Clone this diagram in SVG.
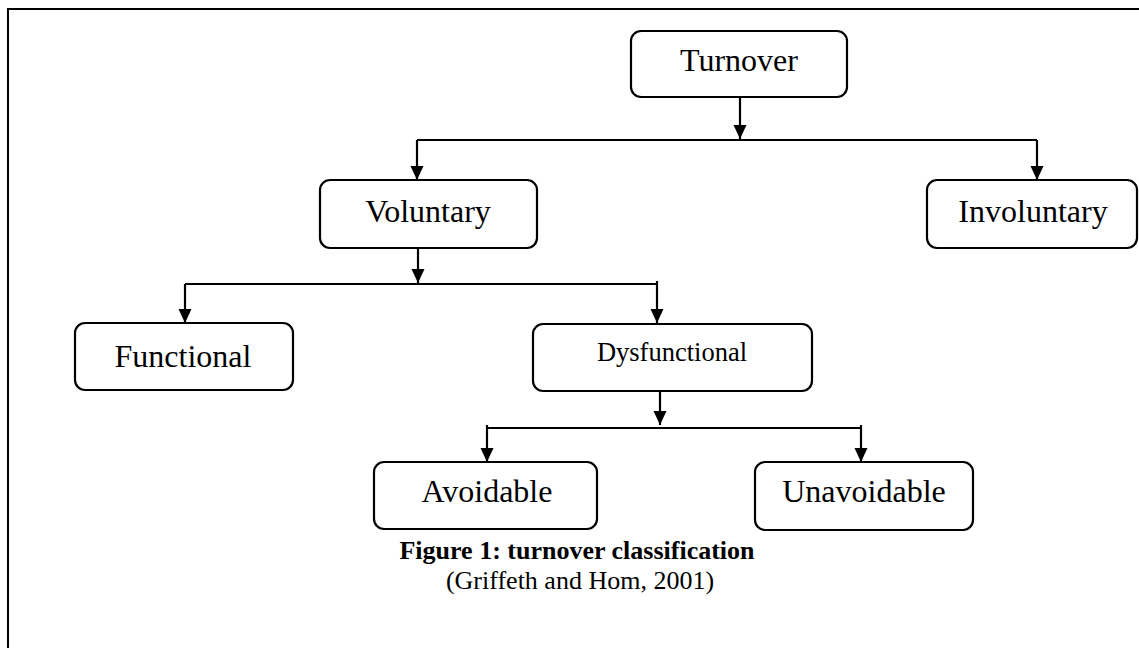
<svg xmlns="http://www.w3.org/2000/svg" width="1139" height="648" viewBox="0 0 1139 648">
<style>
.box{fill:#fff;stroke:#000;stroke-width:2.2}
.lbl{font-family:"Liberation Serif","Times New Roman",serif;font-size:32px;fill:#000;text-anchor:middle}
.ln{fill:none;stroke:#000;stroke-width:2.2}
.cap{font-family:"Liberation Serif","Times New Roman",serif;font-size:25px;fill:#000;text-anchor:middle}
</style>
<defs>
<marker id="ah" markerUnits="userSpaceOnUse" markerWidth="14" markerHeight="14" refX="14" refY="6.5" orient="auto">
<path d="M0,0 L14,6.5 L0,13 z" fill="#000"/>
</marker>
</defs>
<rect x="0" y="0" width="1139" height="648" fill="#fff"/>
<path d="M8 650 V9 H1145" fill="none" stroke="#000" stroke-width="2"/>
<g id="connectors">
<path class="ln" d="M740 97 V139" marker-end="url(#ah)"/>
<path class="ln" d="M417 140 H1037"/>
<path class="ln" d="M417 140 V180" marker-end="url(#ah)"/>
<path class="ln" d="M1037 140 V180" marker-end="url(#ah)"/>
<path class="ln" d="M418 248 V283" marker-end="url(#ah)"/>
<path class="ln" d="M185 284 H657"/>
<path class="ln" d="M185 284 V323" marker-end="url(#ah)"/>
<path class="ln" d="M657 281 V323" marker-end="url(#ah)"/>
<path class="ln" d="M660 391 V425" marker-end="url(#ah)"/>
<path class="ln" d="M487 428 H861"/>
<path class="ln" d="M487 425 V462" marker-end="url(#ah)"/>
<path class="ln" d="M861 425 V462" marker-end="url(#ah)"/>
</g>
<g id="turnover">
<rect class="box" x="631" y="31" width="216" height="66" rx="10"/>
<text class="lbl" x="739" y="71">Turnover</text>
</g>
<g id="voluntary">
<rect class="box" x="320" y="180" width="217" height="68" rx="10"/>
<text class="lbl" x="428" y="222">Voluntary</text>
</g>
<g id="involuntary">
<rect class="box" x="927" y="180" width="210" height="68" rx="10"/>
<text class="lbl" x="1033" y="222">Involuntary</text>
</g>
<g id="functional">
<rect class="box" x="75" y="323" width="218" height="67" rx="10"/>
<text class="lbl" x="183" y="367">Functional</text>
</g>
<g id="dysfunctional">
<rect class="box" x="533" y="324" width="279" height="67" rx="10"/>
<text class="lbl" x="672" y="361" style="font-size:26.5px">Dysfunctional</text>
</g>
<g id="avoidable">
<rect class="box" x="374" y="462" width="223" height="67" rx="10"/>
<text class="lbl" x="487" y="502">Avoidable</text>
</g>
<g id="unavoidable">
<rect class="box" x="755" y="462" width="218" height="68" rx="10"/>
<text class="lbl" x="864" y="502">Unavoidable</text>
</g>
<g id="caption">
<text class="cap" x="577" y="559" font-weight="bold" style="font-size:26px">Figure 1: turnover classification</text>
<text class="cap" x="580" y="589" style="font-size:26px">(Griffeth and Hom, 2001)</text>
</g>
</svg>
